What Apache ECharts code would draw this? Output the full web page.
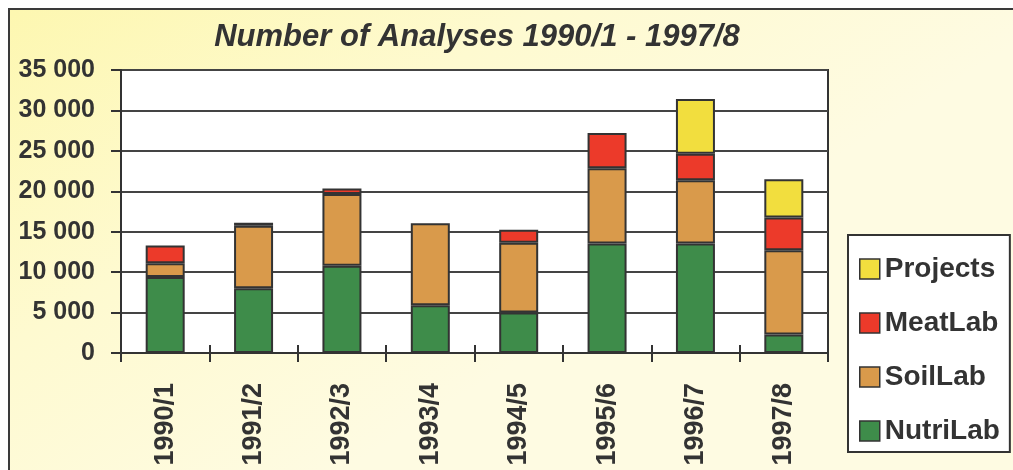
<!DOCTYPE html>
<html>
<head>
<meta charset="utf-8">
<script src="https://cdn.jsdelivr.net/npm/echarts@6/dist/echarts.min.js"></script>
<style>
html,body{margin:0;padding:0;background:#fff;}
#chart{width:1013px;height:470px;}
</style>
</head>
<body>
<div id="chart"></div>
<script>
const categories = ['1990/1','1991/2','1992/3','1993/4','1994/5','1995/6','1996/7','1997/8'];
const nutriLab = [9400, 8000, 10800, 5900, 5000, 13550, 13550, 2300];
const soilLab  = [1700, 7750, 8850, 10150, 8650, 9300, 7800, 10400];
const meatLab  = [2200, 350, 700, null, 1600, 4350, 3300, 4050];
const projects = [null, null, null, null, null, null, 6750, 4750];
const yTicks = [0, 5000, 10000, 15000, 20000, 25000, 30000, 35000];
const titleText = 'Number of Analyses 1990/1 - 1997/8';

const FONT = '"Liberation Sans", Arial, Helvetica, sans-serif';
const INK = '#333333';
const colors = { NutriLab:'#3e8c4a', SoilLab:'#d99a4b', MeatLab:'#ec3a2a', Projects:'#f2de3e' };

function fmt(v){ return String(v).replace(/\B(?=(\d{3})+(?!\d))/g, ' '); }

function barSeries(name, data){
  return {
    name: name, type: 'bar', stack: 'total', data: data,
    xAxisIndex: 0, yAxisIndex: 0,
    barWidth: 39,
    itemStyle: { color: colors[name], borderColor: INK, borderWidth: 2 },
    emphasis: { disabled: true }
  };
}

const chart = echarts.init(document.getElementById('chart'), null, {renderer:'canvas'});
chart.setOption({
  animation: false,
  backgroundColor: '#ffffff',
  graphic: [{
    type: 'rect', z: -10, silent: true,
    shape: { x: 9, y: 9, width: 1020, height: 480 },
    style: {
      fill: { type:'linear', x:0, y:0, x2:0.3, y2:1, colorStops:[
        {offset:0, color:'#fdf7b0'}, {offset:0.5, color:'#fefad0'}, {offset:1, color:'#fefbe2'}] },
      stroke: '#3a3a3a', lineWidth: 2
    }
  }],
  title: {
    text: titleText,
    left: 472, top: 17, textAlign: 'center',
    textStyle: { fontFamily: FONT, fontSize: 31, fontWeight: 'bold', fontStyle: 'italic', color: INK }
  },
  legend: {
    orient: 'vertical',
    left: 848, top: 235,
    data: ['Projects','MeatLab','SoilLab','NutriLab'],
    backgroundColor: '#ffffff',
    borderColor: INK, borderWidth: 2, borderRadius: 0,
    padding: [19, 10, 6, 11],
    itemGap: 24,
    itemWidth: 20, itemHeight: 20,
    icon: 'rect',
    itemStyle: { borderColor: INK, borderWidth: 1.5 },
    textStyle: { fontFamily: FONT, fontSize: 28, fontWeight: 'bold', color: INK, lineHeight: 30 },
    selectedMode: false
  },
  grid: {
    left: 121, right: 185, top: 70, bottom: 117,
    show: true, backgroundColor: '#ffffff', borderColor: INK, borderWidth: 2
  },
  xAxis: [{
    type: 'category', data: categories, position: 'bottom',
    axisLine: { show: true, lineStyle: { color: INK, width: 2 } },
    axisTick: { show: true, alignWithLabel: false, length: 9, lineStyle: { color: INK, width: 2 } },
    axisLabel: { rotate: 90, margin: 30, fontFamily: FONT, fontSize: 27, fontWeight: 'bold', color: INK },
    splitLine: { show: false }
  }, {
    type: 'category', data: categories, position: 'bottom', offset: 0,
    axisLine: { show: false },
    axisTick: { show: true, inside: true, length: 8, lineStyle: { color: INK, width: 2 } },
    axisLabel: { show: false },
    splitLine: { show: false }
  }],
  yAxis: {
    type: 'value', min: yTicks[0], max: yTicks[yTicks.length-1], interval: yTicks[1]-yTicks[0],
    axisLine: { show: true, lineStyle: { color: INK, width: 2 } },
    axisTick: { show: true, length: 10, lineStyle: { color: INK, width: 2 } },
    axisLabel: { margin: 26, fontFamily: FONT, fontSize: 25, fontWeight: 'bold', color: INK, formatter: fmt },
    splitLine: { show: true, lineStyle: { color: '#444444', width: 2 } }
  },
  series: [
    barSeries('NutriLab', nutriLab),
    barSeries('SoilLab', soilLab),
    barSeries('MeatLab', meatLab),
    barSeries('Projects', projects)
  ]
});
</script>
</body>
</html>
